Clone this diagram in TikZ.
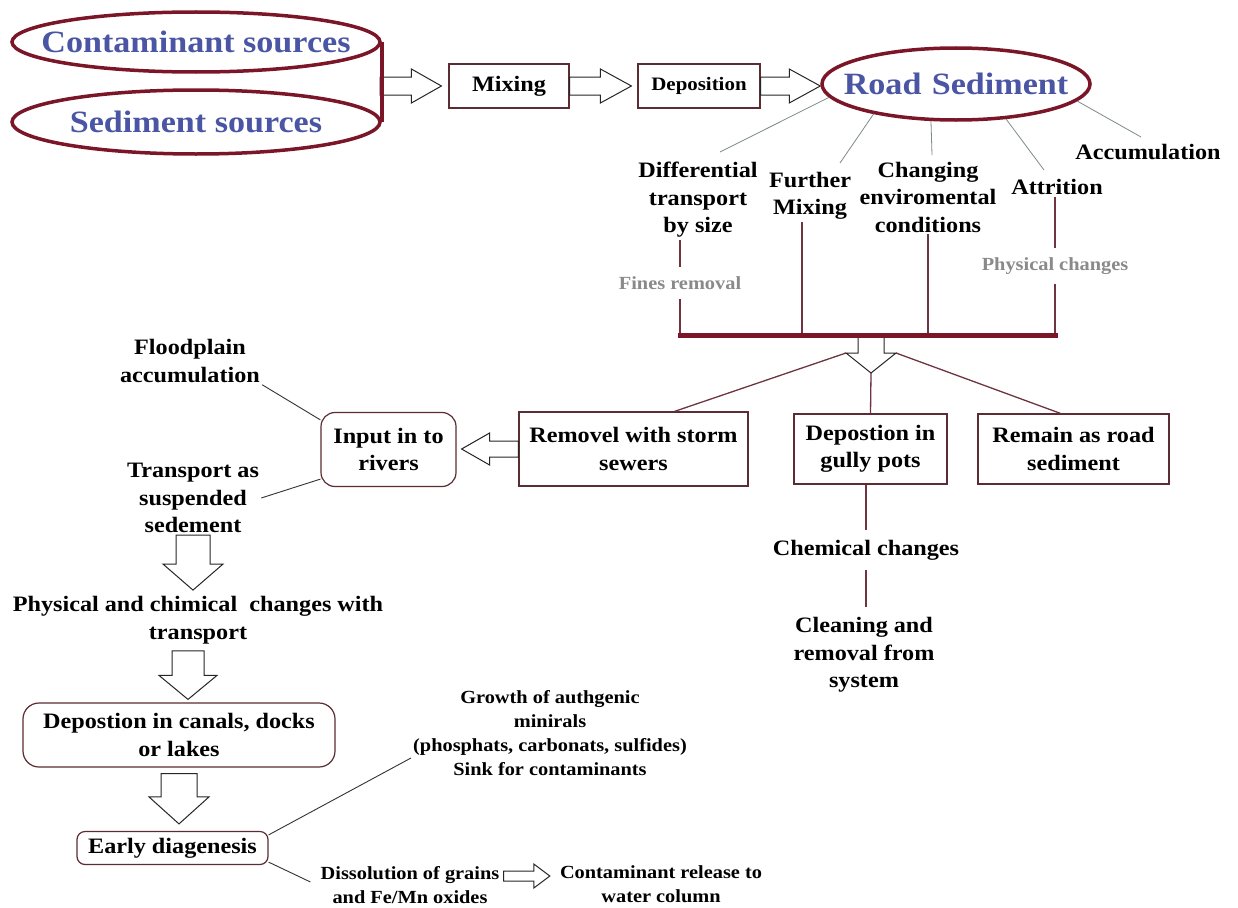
\documentclass[tikz,border=0pt]{standalone}
\usepackage{fontspec}
\setmainfont{Liberation Serif}[FakeStretch=1.1]
\usetikzlibrary{shapes.geometric,calc}
\definecolor{maroon}{HTML}{7A1628}
\definecolor{blu}{HTML}{4A56A4}
\definecolor{gry}{HTML}{8A8A8A}
\definecolor{boxc}{HTML}{5C2C34}
\definecolor{linec}{HTML}{6E3440}
\definecolor{thinc}{HTML}{7E8A8A}
\begin{document}
\begin{tikzpicture}[x=1pt,y=-1pt,
 txt/.style={font=\fontsize{22}{27.5}\selectfont\bfseries, align=center, inner sep=2pt},
 small/.style={font=\fontsize{18.5}{24}\selectfont\bfseries, align=center, inner sep=2pt},
 grey/.style={small, text=gry, inner ysep=9pt},
 src/.style={ellipse, draw=maroon, line width=3.5pt, text=blu, font=\fontsize{31}{36}\selectfont\bfseries, inner sep=0pt},
 boxn/.style={txt, draw=boxc, line width=1.2pt, rectangle, inner sep=0pt},
 rbox/.style={boxn, rounded corners=14pt},
 thinl/.style={draw=thinc, line width=0.8pt},
 conn/.style={draw=linec, line width=1.3pt},
 dark/.style={draw=black!80, line width=0.9pt},
 barl/.style={draw=maroon, line width=5pt},
 fa/.style={draw=black!85, line width=1pt, fill=white},
 fatE/.style n args={3}{to path={let \p1=(\tikztostart),\p2=(\tikztotarget) in (\x1,\y1+#1) -- (\x2-#3,\y1+#1) -- (\x2-#3,\y1+#2) -- (\x2,\y1) -- (\x2-#3,\y1-#2) -- (\x2-#3,\y1-#1) -- (\x1,\y1-#1) -- cycle}},
 fatW/.style n args={3}{to path={let \p1=(\tikztostart),\p2=(\tikztotarget) in (\x1,\y1+#1) -- (\x2+#3,\y1+#1) -- (\x2+#3,\y1+#2) -- (\x2,\y1) -- (\x2+#3,\y1-#2) -- (\x2+#3,\y1-#1) -- (\x1,\y1-#1) -- cycle}},
 fatS/.style n args={3}{to path={let \p1=(\tikztostart),\p2=(\tikztotarget) in (\x1+#1,\y1) -- (\x1+#1,\y2+#3) -- (\x1+#2,\y2+#3) -- (\x1,\y2) -- (\x1-#2,\y2+#3) -- (\x1-#1,\y2+#3) -- (\x1-#1,\y1) -- cycle}}
]
\useasboundingbox[fill=white] (0,0) rectangle (1238,907);

% ---- top row
\node[src, minimum width=368pt, minimum height=60pt] (cs) at (196,42) {\makebox[0pt]{Contaminant sources}};
\node[src, minimum width=368pt, minimum height=64pt] (ss) at (196,122) {\makebox[0pt]{Sediment sources}};
\coordinate (jn) at (380,86);
\node[boxn, minimum width=120pt, minimum height=44pt] (mix) at (509,86) {Mixing};
\node[boxn, font=\fontsize{19}{23}\selectfont\bfseries, minimum width=122pt, minimum height=44pt] (dep) at (699,86) {Deposition};
\node[src, minimum width=268pt, minimum height=72pt] (rs) at (956,84) {\makebox[0pt]{Road\,\,Sediment}};
\draw[fa] (jn) to[fatE={9pt}{17pt}{30pt}] ([xshift=-7pt]mix.west);
\draw[fa] (mix.east) to[fatE={9pt}{17pt}{31pt}] ([xshift=-6pt]dep.west);
\draw[fa] (dep.east) to[fatE={9pt}{17pt}{31pt}] (rs.west);
\draw[barl, line width=3.5pt] (cs.east) -- (ss.east);

% ---- processes under road sediment
\node[txt] (dt) at (698,200) {Differential\\transport\\by size};
\node[txt] (fm) at (810,196) {Further\\Mixing};
\node[txt] (ce) at (928,197) {Changing\\enviromental\\conditions};
\node[txt] (att) at (1057,187) {Attrition};
\node[txt] (ac) at (1148,152) {Accumulation};
\node[grey] (fr) at (680,283) {Fines removal};
\node[grey] (pc) at (1055,266) {Physical changes};

\coordinate (e1) at (720,152);
\coordinate (e2) at (840,163);
\coordinate (e3) at (932,155);
\coordinate (e4) at (1044,170);
\coordinate (e5) at (1141,137);
\draw[thinl] (rs.186) -- (e1);
\draw[thinl] (rs.200) -- (e2);
\draw[thinl] (rs.236) -- (e3);
\draw[thinl] (rs.-35) -- (e4);
\draw[thinl] (rs.-8) -- (e5);

\coordinate (bl) at (677.5,335);
\coordinate (br) at (1057.5,335);
\draw[conn] (fr.north |- dt.south) -- (fr.north);
\draw[conn] (fr.south) -- (fr.south |- bl);
\draw[conn] ([xshift=-8pt]fm.south) -- ([xshift=-8pt]fm.south |- bl);
\draw[conn] (ce.south) -- (ce.south |- bl);
\draw[conn] (pc.north |- att.south) -- (pc.north);
\draw[conn] (pc.south) -- (pc.south |- bl);

\coordinate (bm) at (871,335);
\coordinate (split) at (871,373);
\coordinate (hl) at (846,353);
\coordinate (hr) at (896,353);
\draw[fa] (bm) to[fatS={13pt}{25pt}{20pt}] (split);
\draw[barl] (bl) -- (br);

% ---- three destinations
\node[boxn, minimum width=229pt, minimum height=74pt] (rem) at (633.5,449) {Removel with storm\\sewers};
\node[boxn, minimum width=153pt, minimum height=70pt] (gul) at (870.5,449) {Depostion in\\gully pots};
\node[boxn, minimum width=191pt, minimum height=70pt] (ram) at (1073.5,449) {Remain as road\\sediment};
\draw[conn] (hl) -- ([xshift=41pt]rem.north);
\draw[conn] (split) -- (gul.north);
\draw[conn] (hr) -- ([xshift=-13pt]ram.north);

\node[txt, inner ysep=10pt] (cc) at (866,550) {Chemical changes};
\node[txt, inner ysep=10pt] (cl) at (864,655) {Cleaning and\\removal from\\system};
\draw[conn] (cc.north |- gul.south) -- (cc.north);
\draw[conn] (cc.south) -- (cc.south |- cl.north);

% ---- river branch
\node[rbox, minimum width=135pt, minimum height=74pt] (inp) at (388.5,449.5) {Input in to\\rivers};
\draw[fa] (rem.west) to[fatW={8pt}{16pt}{28pt}] ([xshift=5pt]inp.east);
\node[txt] (fp) at (190,361) {Floodplain\\accumulation};
\node[txt] (ts) at (193,498) {Transport as\\suspended\\sedement};
\draw[dark] ([yshift=-8pt]inp.north west) -- (fp.south east);
\draw[dark] ([yshift=8pt]inp.south west) -- (ts.east);

\node[txt] (pcc) at (198,620) {Physical and chimical\ \ changes with\\transport};
\draw[fa] (ts.south) to[fatS={17pt}{30pt}{26pt}] ([yshift=4pt]pcc.north);
\node[rbox, minimum width=312pt, minimum height=64pt, rounded corners=16pt] (cdl) at (179,735) {Depostion in canals, docks\\or lakes};
\draw[fa] ([shift={(-10pt,-5pt)}]pcc.south) to[fatS={16pt}{29pt}{24pt}] ([yshift=3pt]cdl.north);
\node[rbox, minimum width=191pt, minimum height=33pt, rounded corners=8pt] (ed) at (172.5,848) {Early diagenesis};
\draw[fa] ([yshift=-6pt]cdl.south) to[fatS={18pt}{30pt}{27pt}] ([yshift=7pt]ed.north);

\node[small] (gr) at (550,733) {Growth of authgenic\\minirals\\(phosphats, carbonats, sulfides)\\Sink for contaminants};
\draw[dark] ([yshift=-4pt]ed.north east) -- ([yshift=-25pt]gr.west);
\node[small] (ds) at (410,885) {Dissolution of grains\\and Fe/Mn oxides};
\draw[dark] ([yshift=3pt]ed.south east) -- ([shift={(-8pt,3pt)}]ds.west);
\node[small] (cr) at (661,884) {Contaminant release to\\water column};
\draw[fa] ([shift={(2pt,9pt)}]ds.east) to[fatE={5pt}{12pt}{16pt}] ([xshift=-8pt]cr.west);
\end{tikzpicture}
\end{document}
